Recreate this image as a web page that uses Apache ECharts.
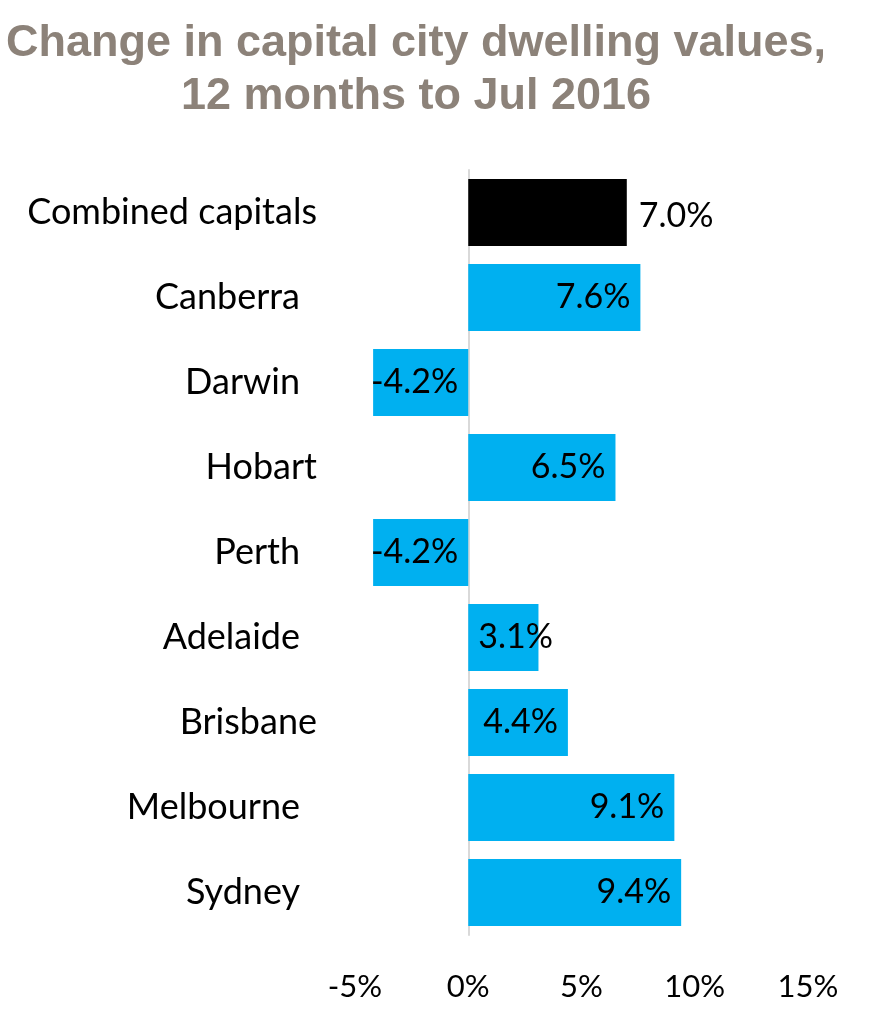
<!DOCTYPE html>
<html>
<head>
<meta charset="utf-8">
<script src="https://cdn.jsdelivr.net/npm/echarts@6/dist/echarts.min.js"></script>
<style>
html,body{margin:0;padding:0;background:#fff;}
#chart{width:870px;height:1026px;}
</style>
</head>
<body>
<div id="chart"></div>
<script>
const titleLines = ['Change in capital city dwelling values,', '12 months to Jul 2016'];
const categories = ['Combined capitals', 'Canberra', 'Darwin', 'Hobart', 'Perth', 'Adelaide', 'Brisbane', 'Melbourne', 'Sydney'];
const values = [7.0, 7.6, -4.2, 6.5, -4.2, 3.1, 4.4, 9.1, 9.4];
const highlightCategory = 'Combined capitals';
const axisMin = -5, axisMax = 15, axisInterval = 5;

// label right-edge shift (visual style, not data)
const shiftedLabels = new Set(['Canberra', 'Darwin', 'Perth', 'Adelaide', 'Melbourne', 'Sydney']);

const BLUE = '#00b0f0';
const FONT = 'Lato';

function labelFor(name, v) {
  if (name === highlightCategory) {
    return { position: 'right', distance: 12, offset: [0, 4] };
  }
  if (v < 0) return { position: 'insideRight', distance: 10 };
  if (v < 3.5) return { position: 'insideLeft', distance: 10 };
  return { position: 'insideRight', distance: 10 };
}

const seriesData = categories.map((name, i) => ({
  value: values[i],
  itemStyle: { color: name === highlightCategory ? '#000000' : BLUE },
  label: labelFor(name, values[i])
}));

const chart = echarts.init(document.getElementById('chart'), null, { renderer: 'canvas' });
chart.setOption({
  animation: false,
  backgroundColor: '#ffffff',
  title: {
    text: titleLines.join('\n'),
    left: 416,
    top: 17,
    padding: 0,
    textAlign: 'center',
    textStyle: {
      fontFamily: 'Liberation Sans, Arial, sans-serif',
      fontWeight: 'bold',
      fontSize: 45,
      lineHeight: 53,
      color: '#8c8279'
    }
  },
  grid: { left: 355, right: 62, top: 170, bottom: 91, containLabel: false },
  xAxis: {
    type: 'value',
    min: axisMin,
    max: axisMax,
    interval: axisInterval,
    axisLine: { show: false },
    axisTick: { show: false },
    splitLine: { show: false },
    axisLabel: {
      formatter: v => v + '%',
      fontFamily: FONT,
      fontSize: 31,
      color: '#000',
      margin: 36
    }
  },
  yAxis: {
    type: 'category',
    inverse: true,
    data: categories,
    axisTick: { show: false },
    axisLine: { show: true, onZero: true, lineStyle: { color: '#d9d9d9', width: 2 } },
    axisLabel: {
      margin: 38,
      fontFamily: FONT,
      fontSize: 36,
      color: '#000',
      formatter: name => shiftedLabels.has(name) ? '{s|' + name + '}' : '{n|' + name + '}',
      rich: {
        s: { fontFamily: FONT, fontSize: 36, color: '#000', padding: [0, 17, 0, 0] },
        n: { fontFamily: FONT, fontSize: 36, color: '#000' }
      }
    }
  },
  series: [{
    type: 'bar',
    data: seriesData,
    barCategoryGap: '21%',
    label: {
      show: true,
      formatter: p => p.value.toFixed(1) + '%',
      fontFamily: FONT,
      fontSize: 34,
      color: '#000'
    }
  }]
});
</script>
</body>
</html>
